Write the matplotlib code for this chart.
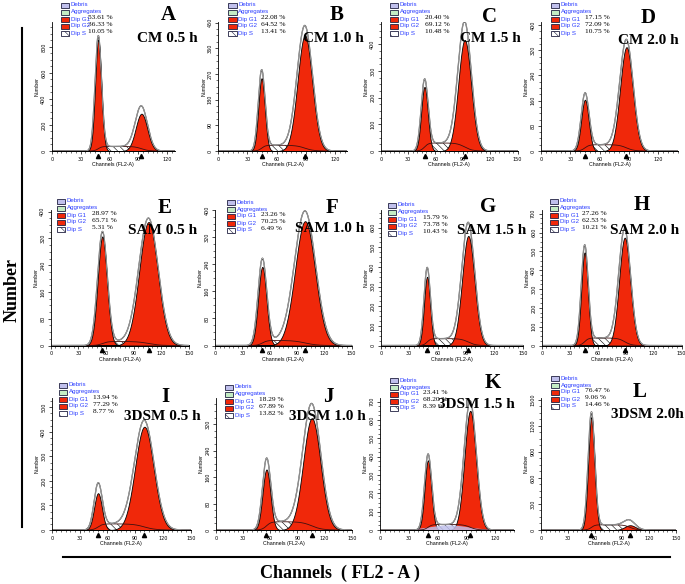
import numpy as np
import matplotlib
matplotlib.use("Agg")
import matplotlib.pyplot as plt
from matplotlib.patches import Rectangle
from matplotlib.transforms import Affine2D
from matplotlib.ticker import MultipleLocator, AutoMinorLocator

W, H = 685, 584

# panel texts
panel_letters = ['A', 'B', 'C', 'D', 'E', 'F', 'G', 'H', 'I', 'J', 'K', 'L']
panel_titles = ['CM 0.5 h', 'CM 1.0 h', 'CM 1.5 h', 'CM 2.0 h',
                'SAM 0.5 h', 'SAM 1.0 h', 'SAM 1.5 h', 'SAM 2.0 h',
                '3DSM 0.5 h', '3DSM 1.0 h', '3DSM 1.5 h', '3DSM 2.0h']
legend_names = ['Debris', 'Aggregates', 'Dip G1', 'Dip G2', 'Dip S']

# cell cycle percentages
g1_pct = [53.61, 22.08, 20.40, 17.15, 28.97, 23.26, 15.79, 27.26, 13.94, 18.29, 23.41, 76.47]
g2_pct = [36.33, 64.52, 69.12, 72.09, 65.71, 70.25, 73.78, 62.53, 77.29, 67.89, 68.20, 9.06]
s_pct = [10.05, 13.41, 10.48, 10.75, 5.31, 6.49, 10.43, 10.21, 8.77, 13.82, 8.39, 14.46]

# peaks (channel, width, fitted height, raw height)
g1_pos = [48.5, 44.5, 48, 45, 56, 52, 49, 46, 50, 56, 50, 56]
g1_width = [3.2, 3.3, 3.6, 3.8, 5.0, 4.5, 3.2, 3.5, 4.2, 4.3, 3.5, 3.5]
g1_fit = [856, 255, 240, 163, 326, 232, 350, 495, 150, 183, 380, 1300]
g1_data = [870, 275, 255, 175, 335, 250, 380, 515, 180, 205, 400, 1330]
g2_pos = [93.5, 89, 92, 87.5, 106, 99, 92.5, 89, 100, 106, 94, 99]
g2_width = [6.0, 7.5, 7.0, 6.5, 10.0, 11.0, 6.5, 6.0, 10.0, 9.5, 6.0, 6.0]
g2_fit = [287, 405, 416, 330, 369, 367, 558, 573, 421, 338, 650, 55]
g2_data = [330, 430, 470, 345, 375, 390, 610, 600, 435, 370, 690, 85]
s_level = [35, 20, 30, 20, 12, 15, 35, 40, 25, 25, 30, 60]
debris_level = [0, 0, 0, 0, 0, 0, 0, 0, 0, 0, 25, 0]

# axis ranges
x_max = [128, 132, 150, 140, 150, 150, 150, 150, 150, 150, 140, 150]
y_max = [992, 452, 483, 410, 405, 400, 690, 720, 538, 399, 720, 1520]
y_step = [200, 90, 100, 80, 80, 80, 100, 100, 100, 80, 100, 300]

# layout in pixels
row_base = [151, 345.5, 530]
row_top = [22, 210, 398]
col_left = [51.7, 218.3, 380.7, 541, 50.7, 215, 380.7, 541.7, 51.7, 215.7, 380, 541]
px_per_ch = [0.96, 0.973, 0.913, 0.977, 0.923, 0.91, 0.947, 0.933, 0.927, 0.907, 0.96, 0.9]
leg_left = [60.7, 228.3, 390, 551, 57, 227, 388, 550, 59, 225, 390, 551]
leg_top = [5, 5, 5, 5, 201, 202, 205, 201, 385, 387, 380, 378]
pct_offset = [27, 33, 35, 34, 35, 34, 35, 32, 34, 34, 33, 34]
letter_xy = [(168, 15), (337, 15), (490, 17), (648, 18),
             (165, 208), (332, 208), (488, 207), (642, 205),
             (165, 397), (328, 397), (493, 383), (640, 392)]
title_xy = [(167, 38), (333, 39), (490, 39), (648, 40),
            (163, 230), (330, 228), (492, 230), (645, 230),
            (162, 417), (327, 417), (476, 405), (647, 415)]

red = '#f0280a'
lavender = '#c0c0ec'
serif = 'Liberation Serif'
sans = 'Liberation Sans'
plt.rcParams['hatch.linewidth'] = 0.4

fig = plt.figure(figsize=(W / 100, H / 100), dpi=100)
tr = Affine2D().scale(1 / W, -1 / H).translate(0, 1) + fig.transFigure

for i in range(12):
    row = i // 4
    left = col_left[i]
    right = left + x_max[i] * px_per_ch[i]
    base, top = row_base[row], row_top[row]
    ax = fig.add_axes([left / W, 1 - base / H, (right - left) / W, (base - top) / H])
    ax.set_xlim(0, x_max[i])
    ax.set_ylim(0, y_max[i])

    x = np.linspace(0, x_max[i], 700)
    g1 = g1_fit[i] * np.exp(-0.5 * ((x - g1_pos[i]) / g1_width[i]) ** 2)
    g2 = g2_fit[i] * np.exp(-0.5 * ((x - g2_pos[i]) / g2_width[i]) ** 2)
    s = s_level[i] / (1 + np.exp(-(x - g1_pos[i]) / (0.6 * g1_width[i])))
    s = s / (1 + np.exp((x - g2_pos[i]) / (0.6 * g2_width[i])))
    mid = 0.5 * (g1_pos[i] + g2_pos[i])
    deb = debris_level[i] * np.exp(-0.5 * ((x - mid) / (0.45 * (g2_pos[i] - g1_pos[i]))) ** 2)
    raw = (g1_data[i] * np.exp(-0.5 * ((x - g1_pos[i]) / (g1_width[i] * 1.05)) ** 2)
           + g2_data[i] * np.exp(-0.5 * ((x - g2_pos[i]) / (g2_width[i] * 1.05)) ** 2) + s)

    ax.fill_between(x, 0, s, facecolor='white', edgecolor='black', hatch='\\\\\\\\\\', lw=0)
    ax.fill_between(x, 0, g1, facecolor=red, edgecolor='black', lw=0.6)
    ax.fill_between(x, 0, g2, facecolor=red, edgecolor='black', lw=0.6)
    if debris_level[i] > 0:
        ax.fill_between(x, 0, deb, facecolor=lavender, edgecolor='none', alpha=0.85)
    ax.plot(x, s, color='#401010', lw=0.6)
    ax.plot(x, raw, color='#333333', lw=0.9)
    ax.plot(x, raw, color='white', lw=0.3)
    ax.plot([g1_pos[i], g2_pos[i]], [-0.035 * y_max[i]] * 2, '^', color='black',
            ms=3, clip_on=False)

    for sp in ['top', 'right']:
        ax.spines[sp].set_visible(False)
    for sp in ['left', 'bottom']:
        ax.spines[sp].set_linewidth(0.6)
    ax.xaxis.set_major_locator(MultipleLocator(30))
    ax.xaxis.set_minor_locator(MultipleLocator(5))
    ax.yaxis.set_major_locator(MultipleLocator(y_step[i]))
    ax.yaxis.set_minor_locator(AutoMinorLocator(4))
    ax.tick_params(which='major', length=2.5, width=0.5, labelsize=3.5, pad=1.5)
    ax.tick_params(which='minor', length=1.5, width=0.4)
    plt.setp(ax.get_yticklabels(), rotation=90, va='center')
    ax.set_xlabel('Channels (FL2-A)', fontsize=3.8, family=sans, labelpad=0.5)
    ax.set_ylabel('Number', fontsize=3.8, family=sans, labelpad=1)

    # legend block
    lx = leg_left[i]
    for k, name in enumerate(legend_names):
        cy = leg_top[i] + 7 * k
        fc = [lavender, '#c4ecc4', red, red, 'white'][k]
        rect = Rectangle((lx, cy - 2.5), 8.5, 5, transform=tr, facecolor=fc,
                         edgecolor='#202040', lw=0.6,
                         hatch='\\\\\\' if k == 4 else None)
        fig.add_artist(rect)
        fig.text(lx + 10, cy, name, transform=tr, fontsize=4.4, family=sans,
                 color='#2a3cff', va='center', ha='left')
    for k, val in enumerate([g1_pct[i], g2_pct[i], s_pct[i]]):
        cy = leg_top[i] + 7 * (k + 2) - 1.5
        fig.text(lx + pct_offset[i], cy, '%.2f %%' % val, transform=tr,
                 fontsize=5.3, family=serif, color='black', va='center', ha='left')

    fig.text(*letter_xy[i], panel_letters[i], transform=tr, fontsize=15,
             family=serif, weight='bold', ha='center', va='center')
    fig.text(*title_xy[i], panel_titles[i], transform=tr, fontsize=11,
             family=serif, weight='bold', ha='center', va='center')

# outer frame labels
fig.add_artist(plt.Line2D([22 / W, 22 / W], [1 - 28 / H, 1 - 527 / H], color='black', lw=1.5))
fig.add_artist(plt.Line2D([63 / W, 670 / W], [1 - 557 / H, 1 - 557 / H], color='black', lw=1.5))
fig.text(12 / W, 1 - 290 / H, 'Number', rotation=90, fontsize=13, family=serif,
         weight='bold', ha='center', va='center')
fig.text(340 / W, 1 - 573 / H, 'Channels  ( FL2 - A )', fontsize=13, family=serif,
         weight='bold', ha='center', va='center')

fig.savefig('out.png', dpi=100)
